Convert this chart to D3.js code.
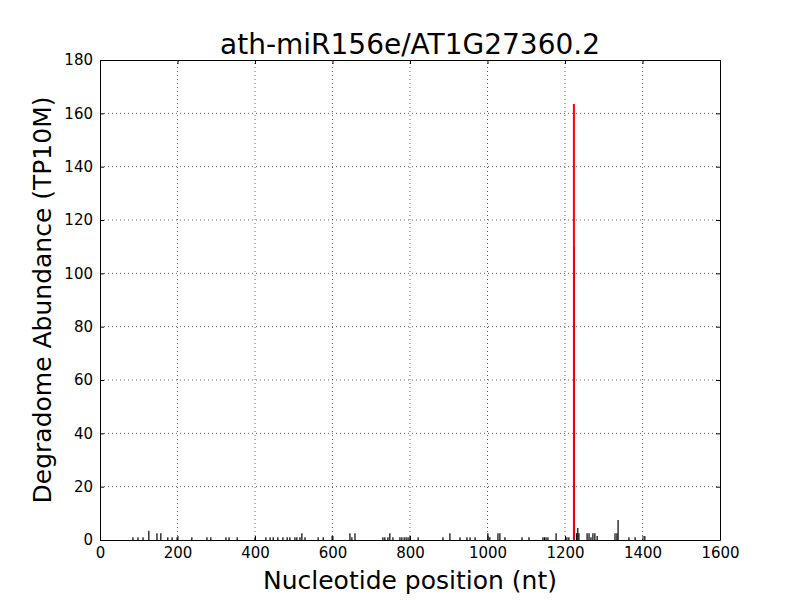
<!DOCTYPE html>
<html>
<head>
<meta charset="utf-8">
<script src="https://cdn.jsdelivr.net/npm/d3@7"></script>
<style>
  body { margin: 0; background: #fff; }
  text { font-family: "DejaVu Sans", sans-serif; }
</style>
</head>
<body>
<div id="chart"></div>
<script>
const W = 800;
const H = 600;
const M = { top: 60, right: 80, bottom: 60, left: 100 };

const title = 'ath-miR156e/AT1G27360.2';
const xLabel = 'Nucleotide position (nt)';
const yLabel = 'Degradome Abundance (TP10M)';

const xTicks = [0, 200, 400, 600, 800, 1000, 1200, 1400, 1600];
const yTicks = [0, 20, 40, 60, 80, 100, 120, 140, 160, 180];

// degradome reads (black)
const positions = [85, 98, 111, 126, 147, 157, 175, 186, 199, 237, 276, 286, 325, 333, 354,
  400, 428, 439, 447, 459, 472, 483, 490, 503, 508, 516, 521, 529, 563, 576,
  599, 645, 650, 658, 730, 735, 743, 748, 756, 774, 779, 785, 790, 795, 800, 821,
  885, 903, 929, 947, 955, 968, 1001, 1006, 1027, 1032, 1045, 1089, 1107,
  1143, 1147, 1151, 1156, 1177, 1205, 1210, 1224, 1230, 1233, 1236,
  1257, 1262, 1267, 1272, 1277, 1283, 1329, 1334, 1337, 1365, 1381, 1406];
const abundance = [1, 1, 1, 3.5, 2.5, 2.5, 1, 1, 1, 1, 1, 1, 1, 1, 1,
  1, 1, 1, 1, 1, 1, 1, 1, 1, 1, 1, 2.5, 1, 1, 1,
  1.5, 2.5, 1, 2.5, 1, 1, 1, 2.5, 1, 1, 1, 1, 1, 1, 1.5, 1,
  1, 2.5, 1, 1, 1, 1, 2.5, 1, 2.5, 2.5, 1, 1, 1,
  1, 1, 1, 1, 2.5, 1, 1, 110, 2.5, 4.5, 2.5,
  2.5, 2.5, 1, 2.5, 2.5, 1.5, 2.5, 2.5, 7.5, 1, 1, 1.5];

// predicted cleavage site (red)
const sitePositions = [1223];
const siteAbundance = [163.5];

const reads = positions.map((p, i) => ({ p, v: abundance[i] }));
const sites = sitePositions.map((p, i) => ({ p, v: siteAbundance[i] }));

const svg = d3.select('#chart').append('svg')
  .attr('width', W)
  .attr('height', H);

const x = d3.scaleLinear().domain([0, 1600]).range([M.left, W - M.right]);
const y = d3.scaleLinear().domain([0, 180]).range([H - M.bottom, M.top]);

// grid
svg.append('g').selectAll('line')
  .data(xTicks.slice(1, -1))
  .enter().append('line')
  .attr('x1', d => x(d)).attr('x2', d => x(d))
  .attr('y1', y(0)).attr('y2', y(180))
  .attr('stroke', '#000').attr('stroke-width', 0.6)
  .attr('stroke-dasharray', '1,3');

svg.append('g').selectAll('line')
  .data(yTicks.slice(1, -1))
  .enter().append('line')
  .attr('x1', x(0)).attr('x2', x(1600))
  .attr('y1', d => y(d)).attr('y2', d => y(d))
  .attr('stroke', '#000').attr('stroke-width', 0.6)
  .attr('stroke-dasharray', '1,3');

// bars
svg.append('g').selectAll('line')
  .data(reads)
  .enter().append('line')
  .attr('x1', d => x(d.p)).attr('x2', d => x(d.p))
  .attr('y1', y(0)).attr('y2', d => y(d.v))
  .attr('stroke', '#000').attr('stroke-width', 1.2);

svg.append('g').selectAll('line')
  .data(sites)
  .enter().append('line')
  .attr('x1', d => x(d.p)).attr('x2', d => x(d.p))
  .attr('y1', y(0)).attr('y2', d => y(d.v))
  .attr('stroke', '#ff0000').attr('stroke-width', 2);

// axes, ticks pointing inward on all sides
const fmt = d3.format('d');
const xAxis = svg.append('g')
  .attr('transform', `translate(0,${y(0)})`)
  .call(d3.axisBottom(x).tickValues(xTicks).tickFormat(fmt).tickSizeInner(-4).tickSizeOuter(0).tickPadding(7));
const xTop = svg.append('g')
  .attr('transform', `translate(0,${y(180)})`)
  .call(d3.axisTop(x).tickValues(xTicks).tickSizeInner(-4).tickSizeOuter(0).tickFormat(''));
const yAxis = svg.append('g')
  .attr('transform', `translate(${x(0)},0)`)
  .call(d3.axisLeft(y).tickValues(yTicks).tickFormat(fmt).tickSizeInner(-4).tickSizeOuter(0).tickPadding(7));
const yRight = svg.append('g')
  .attr('transform', `translate(${x(1600)},0)`)
  .call(d3.axisRight(y).tickValues(yTicks).tickSizeInner(-4).tickSizeOuter(0).tickFormat(''));

[xAxis, xTop, yAxis, yRight].forEach(g => {
  g.select('.domain').attr('stroke', '#000').attr('stroke-width', 1);
  g.selectAll('.tick line').attr('stroke', '#000');
  g.selectAll('.tick text')
    .attr('fill', '#000')
    .style('font-family', '"DejaVu Sans", sans-serif')
    .style('font-size', '15px');
});

// labels
svg.append('text')
  .attr('x', (x(0) + x(1600)) / 2).attr('y', 54)
  .attr('text-anchor', 'middle')
  .style('font-size', '28px')
  .text(title);

svg.append('text')
  .attr('x', (x(0) + x(1600)) / 2).attr('y', 589)
  .attr('text-anchor', 'middle')
  .style('font-size', '25px')
  .text(xLabel);

svg.append('text')
  .attr('transform', `translate(51,${(y(0) + y(180)) / 2}) rotate(-90)`)
  .attr('text-anchor', 'middle')
  .style('font-size', '25px')
  .text(yLabel);
</script>
</body>
</html>
